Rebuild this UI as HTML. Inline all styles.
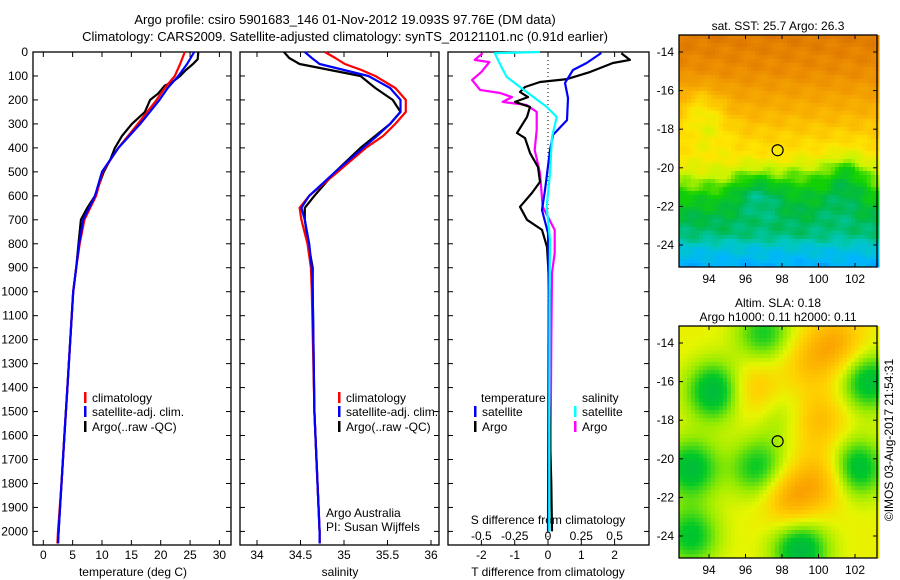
<!DOCTYPE html>
<html><head><meta charset="utf-8"><style>
body{margin:0;background:#fff}
svg{display:block;font-family:"Liberation Sans",sans-serif}
text{font-size:12px;fill:#000}
</style></head><body>
<svg id="c" width="900" height="580" viewBox="0 0 900 580">
<text x="345" y="24" text-anchor="middle" style="font-size:13px">Argo profile: csiro 5901683_146 01-Nov-2012 19.093S 97.76E (DM data)</text>
<text x="345" y="41" text-anchor="middle" style="font-size:13px">Climatology: CARS2009. Satellite-adjusted climatology: synTS_20121101.nc (0.91d earlier)</text>
</svg>
<script>
const depthT=[0,30,50,75,100,125,140,175,200,250,300,350,400,450,500,600,650,700,750,800,900,1000,1200,1400,1600,1800,2000,2050];
const tempArgo=[26.4,26.3,25.5,24.3,23.3,22,20.7,19.5,18.2,17.3,15.1,13.4,12.2,11.4,10.3,8.8,7.5,6.4,6.2,6.0,5.6,5.1,4.6,4.1,3.6,3.1,2.6,2.5];
const depthC=[0,50,100,150,200,300,400,500,600,700,800,900,1000,1200,1400,1600,1800,2000,2050];
const tempClim=[24.1,23.3,22.4,20.7,19.3,16.1,12.8,10.1,9.0,7.0,6.2,5.6,5.1,4.6,4.1,3.6,3.1,2.5,2.4];
const tempSat=[25.7,24.5,23,21.2,19.8,16.5,12.8,10,8.8,6.8,6.1,5.6,5.1,4.6,4.1,3.6,3.1,2.6,2.5];
const depthS=[0,25,50,75,100,150,200,250,300,350,400,500,600,650,700,800,900,1000,1500,2000,2050];
const salArgo=[34.31,34.37,34.49,34.84,35.19,35.36,35.56,35.65,35.53,35.36,35.19,34.9,34.66,34.55,34.55,34.59,34.64,34.64,34.66,34.72,34.72];
const salClim=[34.78,34.9,35.01,35.2,35.36,35.59,35.71,35.71,35.59,35.45,35.25,34.93,34.6,34.49,34.51,34.58,34.62,34.63,34.66,34.72,34.72];
const salSat=[34.55,34.63,34.72,35.0,35.28,35.53,35.65,35.65,35.53,35.38,35.22,34.9,34.6,34.51,34.55,34.6,34.63,34.64,34.66,34.72,34.72];
const depthDA=[5,33,46,83,113,125,146,167,188,208,229,271,338,359,421,480,542,588,646,700,742,813,1000,1300,1600,1800,2000];
const tDiffArgo=[2.2,2.46,1.95,1.27,0.57,-0.24,-0.69,-0.84,-0.6,-0.99,-0.54,-0.63,-0.93,-0.69,-0.54,-0.3,-0.24,-0.48,-0.84,-0.63,-0.18,-0.03,0.05,0.03,0.06,0.1,0.12];
const depthDS=[4,46,75,129,192,284,346,409,576,659,755,1000,1500,2000];
const tDiffSat=[1.6,1.16,0.75,0.51,0.6,0.57,0.15,0.06,-0.09,-0.18,0,0.02,0.01,0];
const depthSS=[0,5,62,104,146,192,229,271,355,505,646,784,1000,1500,2000];
const sDiffSat=[-0.06,-0.4,-0.35,-0.31,-0.21,-0.1,-0.01,0.065,0.03,0.015,-0.01,0.015,0.012,0.01,0.01];
const depthSA=[5,33,42,83,117,158,171,188,208,221,250,325,409,505,646,742,838,922,1200,1577,1800];
const sDiffArgo=[-0.49,-0.55,-0.44,-0.5,-0.57,-0.51,-0.36,-0.27,-0.34,-0.16,-0.085,-0.085,-0.1,-0.06,-0.04,0.05,0.05,0.03,0.025,0.02,0.015];
const depthTicks=[0,100,200,300,400,500,600,700,800,900,1000,1100,1200,1300,1400,1500,1600,1700,1800,1900,2000];
const tempTicks=[0,5,10,15,20,25,30];
const salTicks=[34,34.5,35,35.5,36];
const tdTicks=[-2,-1,0,1,2];
const sdTicks=[-0.5,-0.25,0,0.25,0.5];
const sdTickLabels=["-0.5","-0.25","0","0.25","0.5"];
const latTicks=[-14,-16,-18,-20,-22,-24];
const lonTicks=[94,96,98,100,102];
const argoLon=97.76, argoLat=-19.09;
const sstBlobLon=[93.5,94,101.5,97,99,96.3,101,94];
const sstBlobLat=[-16.8,-18,-20.3,-21.5,-20.5,-21,-22,-22.5];
const sstBlobAmp=[-0.12,-0.08,-0.15,-0.08,-0.06,-0.07,-0.05,0];
const slaBlobLon=[94.3,93,96.7,102.7,102,99,93,97,97.8,96.5,101,100,98.5,100.4,99.5];
const slaBlobLat=[-16.5,-20.5,-20.5,-16,-20.5,-24.7,-24,-13.5,-17.6,-16.5,-14,-18,-22,-21,-15];
const slaBlobAmp=[-0.5,-0.45,-0.38,-0.45,-0.5,-0.5,-0.4,-0.35,-0.18,0.25,0.3,0.25,0.35,0.3,0.2];

const NS="http://www.w3.org/2000/svg";
const svg=document.getElementById('c');
function mk(tag,attrs,parent){const e=document.createElementNS(NS,tag);for(const k in attrs)e.setAttribute(k,attrs[k]);(parent||svg).appendChild(e);return e;}
function txt(x,y,s,anchor,parent){const t=mk('text',{x:x,y:y,'text-anchor':anchor||'middle'},parent);t.textContent=s;return t;}
const Y0=52,YB=545;
function yD(d){return Y0+d*0.2397;}
function xT(t){return 43.3+t*5.87;}
function xS(s){return 257+(s-34)*87;}
function xD(t){return 548+t*33.3;}
function xSD(s){return 548+s*133.2;}

function panel(x0,x1,name){
  const g=mk('g',{});
  
  
  const r=mk('rect',{x:x0,y:Y0,width:x1-x0,height:YB-Y0,fill:'none',stroke:'#000','stroke-width':1.3},g);
  
  
  depthTicks.forEach(d=>{mk('line',{x1:x0,x2:x0+5,y1:yD(d),y2:yD(d),stroke:'#000'},g);mk('line',{x1:x1,x2:x1-5,y1:yD(d),y2:yD(d),stroke:'#000'},g);});
  return g;
}
function line(g,xs,ds,fx,color,name){
  const p=mk('polyline',{points:xs.map((v,i)=>fx(v).toFixed(1)+','+yD(ds[i]).toFixed(1)).join(' '),fill:'none',stroke:color,'stroke-width':2.2,'stroke-linejoin':'round'},g);
  
  
}
function legend(g,x,y,color,label){
  mk('rect',{x:x,y:y-10,width:2.5,height:11,fill:color},g);
  const t=txt(x+8,y,label,'start',g);
  
  
}
// Panel 1
const p1=panel(33,231,'temperature-panel');
depthTicks.forEach(d=>{const t=txt(28,yD(d)+4,String(d),'end',p1);});
tempTicks.forEach(v=>{mk('line',{x1:xT(v),x2:xT(v),y1:YB,y2:YB-5,stroke:'#000'},p1);mk('line',{x1:xT(v),x2:xT(v),y1:Y0,y2:Y0+5,stroke:'#000'},p1);txt(xT(v),559,String(v),'middle',p1);});
const xt1=txt(133,576,'temperature (deg C)','middle',p1);


line(p1,tempArgo,depthT,xT,'#000','temp-argo-line');
line(p1,tempClim,depthC,xT,'#f00','temp-climatology-line');
line(p1,tempSat,depthC,xT,'#00f','temp-satellite-line');
legend(p1,84,402,'#f00','climatology');
legend(p1,84,416,'#00f','satellite-adj. clim.');
legend(p1,84,431,'#000','Argo(..raw -QC)');
// Panel 2
const p2=panel(240,439,'salinity-panel');
salTicks.forEach(v=>{mk('line',{x1:xS(v),x2:xS(v),y1:YB,y2:YB-5,stroke:'#000'},p2);mk('line',{x1:xS(v),x2:xS(v),y1:Y0,y2:Y0+5,stroke:'#000'},p2);txt(xS(v),559,String(v),'middle',p2);});
const xt2=txt(340,576,'salinity','middle',p2);


line(p2,salArgo,depthS,xS,'#000','sal-argo-line');
line(p2,salClim,depthS,xS,'#f00','sal-climatology-line');
line(p2,salSat,depthS,xS,'#00f','sal-satellite-line');
legend(p2,338,402,'#f00','climatology');
legend(p2,338,416,'#00f','satellite-adj. clim.');
legend(p2,338,431,'#000','Argo(..raw -QC)');
txt(326,517,'Argo Australia','start',p2);
txt(326,531,'PI: Susan Wijffels','start',p2);
// Panel 3
const p3=panel(448,649,'difference-panel');
mk('line',{x1:548,x2:548,y1:Y0,y2:YB,stroke:'#000','stroke-dasharray':'1,3'},p3);
tdTicks.forEach(v=>{mk('line',{x1:xD(v),x2:xD(v),y1:YB,y2:YB-5,stroke:'#000'},p3);txt(xD(v),559,String(v),'middle',p3);});
sdTicks.forEach((v,i)=>{mk('line',{x1:xSD(v),x2:xSD(v),y1:Y0,y2:Y0+5,stroke:'#000'},p3);txt(xSD(v),540,sdTickLabels[i],'middle',p3);});
txt(548,524,'S difference from climatology','middle',p3);
const xt3=txt(548,576,'T difference from climatology','middle',p3);


line(p3,sDiffArgo,depthSA,xSD,'#f0f','s-diff-argo-line');
line(p3,tDiffArgo,depthDA,xD,'#000','t-diff-argo-line');
line(p3,tDiffSat,depthDS,xD,'#00f','t-diff-satellite-line');
line(p3,sDiffSat,depthSS,xSD,'#0ff','s-diff-satellite-line');
txt(481,402,'temperature','start',p3);
txt(582,402,'salinity','start',p3);
legend(p3,474,416,'#00f','satellite');
legend(p3,474,431,'#000','Argo');
legend(p3,574,416,'#0ff','satellite');
legend(p3,574,431,'#f0f','Argo');

// Maps
function lerpC(stops,v){v=Math.max(0,Math.min(1,v));for(let i=1;i<stops.length;i++){if(v<=stops[i][0]){const a=stops[i-1],b=stops[i],f=(v-a[0])/(b[0]-a[0]);return 'rgb('+[1,2,3].map(k=>Math.round(a[k]+(b[k]-a[k])*f)).join(',')+')';}}const l=stops[stops.length-1];return 'rgb('+l[1]+','+l[2]+','+l[3]+')';}
const sstStops=[[0,0,110,255],[0.12,0,180,255],[0.22,0,200,190],[0.32,0,185,70],[0.42,20,210,0],[0.52,200,245,0],[0.62,255,230,0],[0.75,250,180,0],[0.9,235,140,0],[1,215,110,0]];
const slaStops=[[0,0,170,90],[0.25,0,200,40],[0.45,150,235,0],[0.6,230,245,0],[0.75,255,210,0],[1,250,160,0]];
function mapPanel(top,name,field,stops,titleLines){
  const g=mk('g',{});
  
  
  const L=679,R=877,B=top+232;
  const lx=lon=>709+(lon-94)*18.25, ly=lat=>top+17+(-14-lat)*19.3;
  const step=4;
  for(let y=top;y<B;y+=step)for(let x=L;x<R;x+=step){
    const lon=94+(x+step/2-709)/18.25, lat=-14-(y+step/2-top-17)/19.3;
    mk('rect',{x:x,y:y,width:step+0.5,height:step+0.5,fill:lerpC(stops,field(lon,lat))},g);
  }
  mk('rect',{x:L,y:top,width:R-L,height:B-top,fill:'none',stroke:'#000','stroke-width':1.3},g);
  latTicks.forEach(v=>{mk('line',{x1:L,x2:L+4,y1:ly(v),y2:ly(v),stroke:'#000'},g);mk('line',{x1:R,x2:R-4,y1:ly(v),y2:ly(v),stroke:'#000'},g);txt(674,ly(v)+4,String(v),'end',g);});
  lonTicks.forEach(v=>{mk('line',{x1:lx(v),x2:lx(v),y1:B,y2:B-4,stroke:'#000'},g);mk('line',{x1:lx(v),x2:lx(v),y1:top,y2:top+4,stroke:'#000'},g);txt(lx(v),B+16,String(v),'middle',g);});
  const m=mk('circle',{cx:lx(argoLon),cy:ly(argoLat),r:5.5,fill:'none',stroke:'#000','stroke-width':1.2},g);
  
  
  titleLines.forEach((s,i)=>txt(778,top-(titleLines.length-1-i)*14-5,s,'middle',g));
}
function sstField(lon,lat){
  let v;
  const pts=[[-13,0.96],[-15,0.9],[-16.5,0.8],[-18,0.7],[-19.5,0.62],[-20.5,0.52],[-21.5,0.4],[-22.5,0.33],[-23.5,0.28],[-24.2,0.18],[-25.5,0.08]];
  for(let i=1;i<pts.length;i++){if(lat>=pts[i][0]){const a=pts[i-1],b=pts[i],f=(lat-a[0])/(b[0]-a[0]);v=a[1]+(b[1]-a[1])*f;break;}}
  if(v===undefined)v=0.08;
  for(let i=0;i<sstBlobLon.length;i++){const d2=((lon-sstBlobLon[i])**2+(lat-sstBlobLat[i])**2);v+=sstBlobAmp[i]*Math.exp(-d2/1.5);}
  v+=0.03*Math.sin(lon*3.1+lat*2.3)*Math.cos(lat*4.7-lon*1.3);
  return v;
}
function slaField(lon,lat){
  let v=0.62;
  for(let i=0;i<slaBlobLon.length;i++){const d2=((lon-slaBlobLon[i])**2+(lat-slaBlobLat[i])**2);v+=slaBlobAmp[i]*Math.exp(-d2/2.4);}
  return v;
}
mapPanel(35,'sst-map',sstField,sstStops,['sat. SST: 25.7  Argo: 26.3']);
mapPanel(326,'sla-map',slaField,slaStops,['Altim. SLA: 0.18','Argo h1000: 0.11 h2000: 0.11']);
const cr=txt(0,0,'©IMOS 03-Aug-2017 21:54:31','middle');
cr.setAttribute('transform','translate(893,440) rotate(-90)');


</script>
</body></html>
